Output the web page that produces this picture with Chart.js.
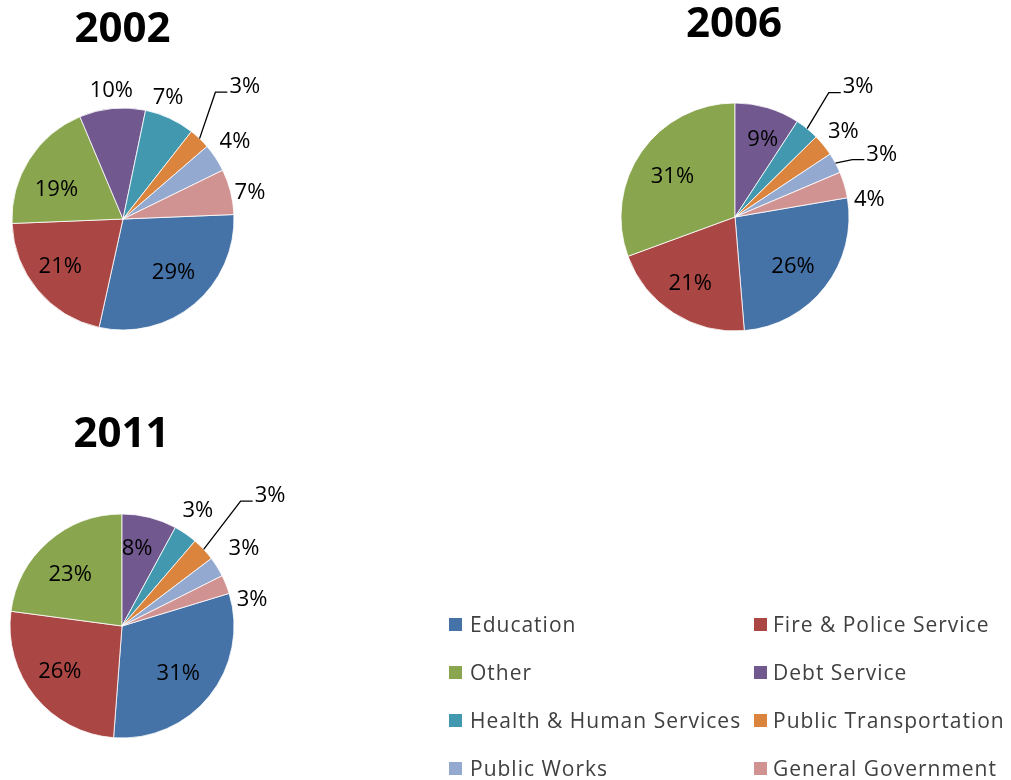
<!DOCTYPE html>
<html>
<head>
<meta charset="utf-8">
<script src="https://cdn.jsdelivr.net/npm/chart.js@4/dist/chart.umd.min.js"></script>
<style>
  html, body { margin: 0; padding: 0; background: #ffffff; }
  #wrap { position: relative; width: 1011px; height: 780px; overflow: hidden; }
  #wrap canvas { position: absolute; left: 0; top: 0; }
  .li { position: absolute; height: 30px; display: flex; align-items: center; white-space: nowrap;
    font-family: "Open Sans", sans-serif; font-size: 21px; letter-spacing: 1px; color: #404040; }
  .sw { display: inline-block; width: 13px; height: 13px; flex: none; }
</style>
</head>
<body>
<div id="wrap">
  <canvas id="c2002" width="1011" height="780"></canvas>
  <canvas id="c2006" width="1011" height="780"></canvas>
  <canvas id="c2011" width="1011" height="780"></canvas>
  <div id="legend"></div>
</div>
<script>
// ---- data ----
const categories = ["Education", "Fire & Police Service", "Other", "Debt Service",
  "Health & Human Services", "Public Transportation", "Public Works", "General Government"];
const years = ["2002", "2006", "2011"];
const values2002 = [29.1, 20.9, 19.3, 9.6, 7.3, 3.1, 4.1, 6.6];
const values2006 = [26.4, 20.7, 30.6, 9.2, 3.4, 3.1, 2.9, 3.7];
const values2011 = [30.9, 25.9, 22.9, 7.9, 3.4, 3.4, 2.9, 2.7];

// ---- styles / layout ----
const colors = ["#4572A7", "#AA4643", "#89A54E", "#71588F", "#4198AF", "#DB843D", "#93A9CF", "#D19392"];
const W = 1011, H = 780;
const layouts = {
  "2002": { cx: 123, cy: 219, r: 111, rot: 87.7, title: { x: 122.5, y: 42 },
    labels: [ {f:0.656,d:-4}, {f:0.70,d:3.8}, {f:0.66,d:-7.8}, {f:1.176,d:0.4},
              {f:1.176,d:-4.7}, {f:1.63,d:-1.3,leader:true}, {f:1.235,d:-1.8}, {f:1.17,d:2} ] },
  "2006": { cx: 735, cy: 217, r: 114, rot: 80.28, title: { x: 734, y: 37 },
    labels: [ {f:0.66,d:1.8}, {f:0.69,d:2.1}, {f:0.66,d:-1.2}, {f:0.73,d:2.9},
              {f:1.58,d:3.9,leader:true}, {f:1.22,d:0.2}, {f:1.405,d:4.6,leader:true}, {f:1.19,d:8.5} ] },
  "2011": { cx: 122, cy: 626, r: 112, rot: 73.08, title: { x: 121.5, y: 446.5 },
    labels: [ {f:0.65,d:0.7}, {f:0.68,d:3.7}, {f:0.66,d:-3.3}, {f:0.72,d:-3.4},
              {f:1.245,d:-1.6}, {f:1.77,d:1.5,leader:true}, {f:1.295,d:-0.9}, {f:1.187,d:9.9} ] }
};
const legendCols = [449, 754];
const legendRows = [624, 672, 720, 768];
const seriesByYear = { "2002": values2002, "2006": values2006, "2011": values2011 };
const labelFont = '22px "Open Sans", sans-serif';
const titleFont = 'bold 42px "Open Sans", sans-serif';

const pieLabels = {
  id: 'pieLabels',
  afterDatasetsDraw(chart, args, opts) {
    const L = opts.layout;
    const ctx = chart.ctx;
    const meta = chart.getDatasetMeta(0);
    const data = chart.data.datasets[0].data;
    const total = data.reduce((a, b) => a + b, 0);
    ctx.save();
    ctx.font = labelFont;
    ctx.fillStyle = '#000000';
    ctx.textAlign = 'center';
    ctx.textBaseline = 'alphabetic';
    meta.data.forEach((arc, i) => {
      const p = arc.getProps(['x', 'y', 'startAngle', 'endAngle', 'outerRadius'], true);
      const mid = (p.startAngle + p.endAngle) / 2;
      const cfg = L.labels[i];
      const a = mid + cfg.d * Math.PI / 180;
      const tx = p.x + Math.cos(a) * p.outerRadius * cfg.f;
      const ty = p.y + Math.sin(a) * p.outerRadius * cfg.f;
      const txt = Math.round(data[i] / total * 100) + '%';
      const w = ctx.measureText(txt).width;
      ctx.fillText(txt, tx, ty + 22 * 0.357);
      if (cfg.leader) {
        const left = tx - w / 2;
        const ly = ty + 7;
        ctx.beginPath();
        ctx.strokeStyle = '#000000';
        ctx.lineWidth = 1.3;
        ctx.moveTo(p.x + Math.cos(mid) * p.outerRadius, p.y + Math.sin(mid) * p.outerRadius);
        ctx.lineTo(left - 14, ly);
        ctx.lineTo(left - 2, ly);
        ctx.stroke();
      }
    });
    ctx.font = titleFont;
    ctx.textAlign = 'center';
    ctx.fillText(opts.year, L.title.x, L.title.y);
    ctx.restore();
  }
};

years.forEach(y => {
  const L = layouts[y];
  new Chart(document.getElementById('c' + y), {
    type: 'pie',
    data: {
      labels: categories,
      datasets: [{
        data: seriesByYear[y],
        backgroundColor: colors,
        borderColor: '#ffffff',
        borderWidth: 0.8,
        radius: L.r
      }]
    },
    options: {
      responsive: false,
      animation: false,
      rotation: L.rot,
      layout: { padding: { left: L.cx - L.r, top: L.cy - L.r, right: W - L.cx - L.r, bottom: H - L.cy - L.r } },
      plugins: {
        legend: { display: false },
        tooltip: { enabled: false },
        pieLabels: { layout: L, year: y }
      }
    },
    plugins: [pieLabels]
  });
});

// legend (HTML, built from the category arrays)
const legend = document.getElementById('legend');
categories.forEach((c, i) => {
  const d = document.createElement('div');
  d.className = 'li';
  d.style.left = legendCols[i % 2] + 'px';
  d.style.top = (legendRows[Math.floor(i / 2)] - 15) + 'px';
  const sw = document.createElement('span');
  sw.className = 'sw';
  sw.style.background = colors[i];
  sw.style.marginRight = (i % 2 === 0 ? 8 : 6) + 'px';
  d.appendChild(sw);
  d.appendChild(document.createTextNode(c));
  legend.appendChild(d);
});
</script>
</body>
</html>
